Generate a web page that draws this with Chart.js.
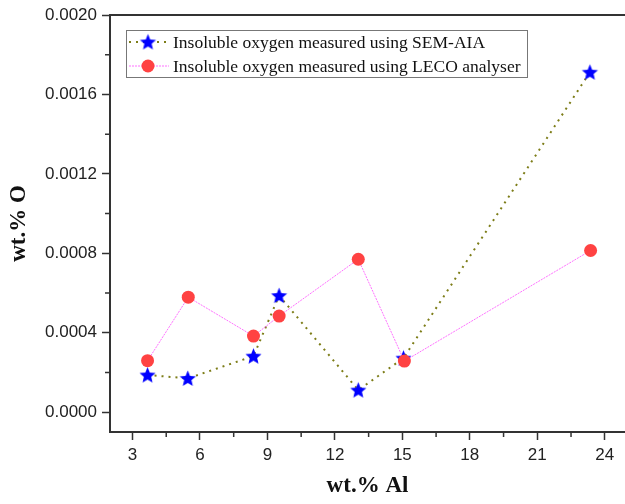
<!DOCTYPE html>
<html>
<head>
<meta charset="utf-8">
<script src="https://cdn.jsdelivr.net/npm/chart.js@4/dist/chart.umd.min.js"></script>
<style>
  html, body { margin: 0; padding: 0; background: #fff; }
  #oxygen { display: block; }
</style>
</head>
<body>
<canvas id="oxygen" width="625" height="504"></canvas>
<script>
// Al content (wt.%) and insoluble oxygen (wt.%) for both measurement methods
const alSem = [3.67, 5.46, 8.38, 9.52, 13.04, 15.05, 23.34];
const oxSem = [0.000187, 0.000170, 0.000282, 0.000587, 0.000111, 0.000272, 0.001712];
const alLeco = [3.67, 5.48, 8.38, 9.52, 13.04, 15.09, 23.37];
const oxLeco = [0.000259, 0.000579, 0.000383, 0.000484, 0.000770, 0.000257, 0.000814];

const semLabel = "Insoluble oxygen measured using SEM-AIA";
const lecoLabel = "Insoluble oxygen measured using LECO analyser";

const xTicks = [3, 6, 9, 12, 15, 18, 21, 24];
const xMinor = [4.5, 7.5, 10.5, 13.5, 16.5, 19.5, 22.5];
const yTicks = [0, 0.0004, 0.0008, 0.0012, 0.0016, 0.002];
const yMinor = [0.0002, 0.0006, 0.001, 0.0014, 0.0018];

const AXIS = "#333";
const OLIVE = "#7d7d18";
const PINK = "#ff70ff";
const RED = "rgb(255,66,66)";
const BLUE = "#0000ff";

// filled five-point star used as point marker
function makeStar(r, color) {
  const c = document.createElement("canvas");
  const s = Math.ceil(r * 2 + 2);
  c.width = s; c.height = s;
  const g = c.getContext("2d");
  g.fillStyle = color;
  g.beginPath();
  for (let i = 0; i < 10; i++) {
    const rad = i % 2 === 0 ? r : r * 0.45;
    const a = -Math.PI / 2 + i * Math.PI / 5;
    const px = s / 2 + rad * Math.cos(a);
    const py = s / 2 + 0.6 + rad * Math.sin(a);
    i === 0 ? g.moveTo(px, py) : g.lineTo(px, py);
  }
  g.closePath();
  g.fill();
  return c;
}
const star = makeStar(8.5, BLUE);

const toXY = (xs, ys) => xs.map((x, i) => ({ x: x, y: ys[i] }));

// top frame line, minor ticks and boxed legend
const extras = {
  id: "extras",
  afterDraw(chart) {
    const ctx = chart.ctx;
    const a = chart.chartArea;
    const xs = chart.scales.x, ys = chart.scales.y;
    ctx.save();
    ctx.strokeStyle = AXIS;
    ctx.lineWidth = 2;
    ctx.beginPath();
    ctx.moveTo(a.left - 1, a.top);
    ctx.lineTo(a.right, a.top);
    ctx.stroke();

    ctx.lineWidth = 1.5;
    ctx.beginPath();
    xMinor.forEach(v => {
      const px = xs.getPixelForValue(v);
      ctx.moveTo(px, a.bottom);
      ctx.lineTo(px, a.bottom + 5);
    });
    yMinor.forEach(v => {
      const py = ys.getPixelForValue(v);
      ctx.moveTo(a.left, py);
      ctx.lineTo(a.left - 5, py);
    });
    ctx.stroke();

    // legend
    const bx = 126.5, by = 30.5, bw = 401, bh = 47;
    ctx.fillStyle = "#fff";
    ctx.fillRect(bx, by, bw, bh);
    ctx.strokeStyle = "#777";
    ctx.lineWidth = 1;
    ctx.strokeRect(bx, by, bw, bh);

    const rows = [
      { y: 42, label: semLabel, color: OLIVE, dash: [2, 5], width: 2 },
      { y: 66, label: lecoLabel, color: PINK, dash: [2, 1], width: 1 }
    ];
    rows.forEach((row, i) => {
      ctx.strokeStyle = row.color;
      ctx.lineWidth = row.width;
      ctx.setLineDash(row.dash);
      ctx.beginPath();
      ctx.moveTo(129, row.y);
      ctx.lineTo(169, row.y);
      ctx.stroke();
      ctx.setLineDash([]);
      if (i === 0) {
        ctx.drawImage(star, 148 - star.width / 2, row.y - star.height / 2);
      } else {
        ctx.fillStyle = RED;
        ctx.beginPath();
        ctx.arc(148, row.y, 6.5, 0, Math.PI * 2);
        ctx.fill();
      }
      ctx.fillStyle = "#111";
      ctx.font = "17.5px 'Liberation Serif'";
      ctx.textBaseline = "middle";
      ctx.fillText(row.label, 173, row.y + 1);
    });
    ctx.restore();
  }
};

new Chart(document.getElementById("oxygen"), {
  type: "line",
  data: {
    datasets: [
      {
        label: semLabel,
        data: toXY(alSem, oxSem),
        borderColor: OLIVE,
        borderWidth: 2,
        borderDash: [2, 5],
        borderCapStyle: "butt",
        pointStyle: star,
        pointRadius: 8,
        backgroundColor: BLUE,
        tension: 0,
        order: 2
      },
      {
        label: lecoLabel,
        data: toXY(alLeco, oxLeco),
        borderColor: PINK,
        borderWidth: 1,
        borderDash: [2, 1],
        pointStyle: "circle",
        pointRadius: 6.5,
        pointBackgroundColor: RED,
        pointBorderWidth: 0,
        tension: 0,
        order: 1
      }
    ]
  },
  options: {
    responsive: false,
    animation: false,
    layout: { autoPadding: false, padding: { top: 15, left: 0, right: 0, bottom: 0 } },
    plugins: {
      legend: { display: false },
      tooltip: { enabled: false }
    },
    scales: {
      x: {
        type: "linear",
        min: 2.0,
        max: 24.9,
        afterFit: s => { s.height = 72; s.paddingLeft = 0; s.paddingRight = 0; },
        afterBuildTicks: s => { s.ticks = xTicks.map(v => ({ value: v })); },
        grid: { display: true, drawOnChartArea: false, tickLength: 8, tickWidth: 1.5, tickColor: AXIS },
        border: { display: true, color: AXIS, width: 2 },
        ticks: {
          color: "#222",
          padding: 5,
          maxRotation: 0,
          font: { family: "'Liberation Sans'", size: 17 }
        },
        title: {
          display: true,
          text: "wt.% Al",
          color: "#111",
          padding: { top: 0, bottom: 4 },
          font: { family: "'Liberation Serif'", size: 23, weight: "bold" }
        }
      },
      y: {
        type: "linear",
        min: -0.0001,
        max: 0.002,
        afterFit: s => { s.width = 110; s.paddingTop = 0; s.paddingBottom = 0; },
        afterBuildTicks: s => { s.ticks = yTicks.map(v => ({ value: v })); },
        grid: { display: true, drawOnChartArea: false, tickLength: 8, tickWidth: 1.5, tickColor: AXIS },
        border: { display: true, color: AXIS, width: 2 },
        ticks: {
          color: "#222",
          padding: 5,
          font: { family: "'Liberation Sans'", size: 17 },
          callback: v => v.toFixed(4)
        },
        title: {
          display: true,
          text: "wt.% O",
          color: "#111",
          padding: { top: 5, bottom: 0 },
          font: { family: "'Liberation Serif'", size: 23, weight: "bold" }
        }
      }
    }
  },
  plugins: [extras]
});
</script>
</body>
</html>
